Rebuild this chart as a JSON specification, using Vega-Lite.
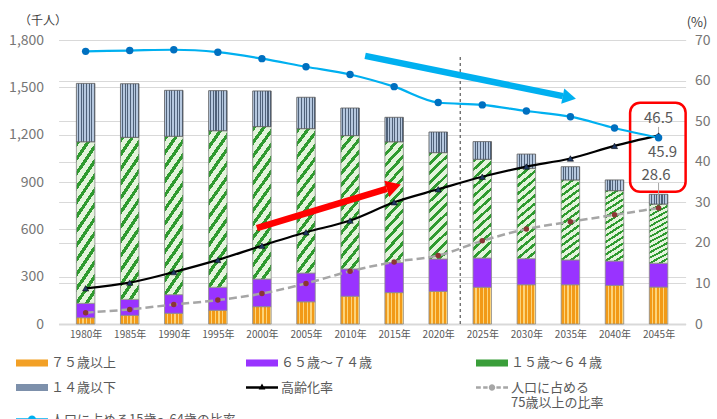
{
  "$schema": "https://vega.github.io/schema/vega-lite/v6.json",
  "width": 627,
  "height": 284,
  "autosize": {"type": "none"},
  "padding": {"left": 58.6, "top": 40, "right": 31.4, "bottom": 95},
  "background": "white",
  "datasets": {
    "bars": [
      {"year": 1980, "group": "７５歳以上", "pop": 40}, {"year": 1980, "group": "６５歳～７４歳", "pop": 91}, {"year": 1980, "group": "１５歳～６４歳", "pop": 1024}, {"year": 1980, "group": "１４歳以下", "pop": 370},
      {"year": 1985, "group": "７５歳以上", "pop": 55}, {"year": 1985, "group": "６５歳～７４歳", "pop": 101}, {"year": 1985, "group": "１５歳～６４歳", "pop": 1027}, {"year": 1985, "group": "１４歳以下", "pop": 340},
      {"year": 1990, "group": "７５歳以上", "pop": 68}, {"year": 1990, "group": "６５歳～７４歳", "pop": 118}, {"year": 1990, "group": "１５歳～６４歳", "pop": 1004}, {"year": 1990, "group": "１４歳以下", "pop": 291},
      {"year": 1995, "group": "７５歳以上", "pop": 87}, {"year": 1995, "group": "６５歳～７４歳", "pop": 146}, {"year": 1995, "group": "１５歳～６４歳", "pop": 992}, {"year": 1995, "group": "１４歳以下", "pop": 254},
      {"year": 2000, "group": "７５歳以上", "pop": 110}, {"year": 2000, "group": "６５歳～７４歳", "pop": 175}, {"year": 2000, "group": "１５歳～６４歳", "pop": 966}, {"year": 2000, "group": "１４歳以下", "pop": 226},
      {"year": 2005, "group": "７５歳以上", "pop": 141}, {"year": 2005, "group": "６５歳～７４歳", "pop": 182}, {"year": 2005, "group": "１５歳～６４歳", "pop": 915}, {"year": 2005, "group": "１４歳以下", "pop": 199},
      {"year": 2010, "group": "７５歳以上", "pop": 176}, {"year": 2010, "group": "６５歳～７４歳", "pop": 173}, {"year": 2010, "group": "１５歳～６４歳", "pop": 845}, {"year": 2010, "group": "１４歳以下", "pop": 175},
      {"year": 2015, "group": "７５歳以上", "pop": 199}, {"year": 2015, "group": "６５歳～７４歳", "pop": 190}, {"year": 2015, "group": "１５歳～６４歳", "pop": 766}, {"year": 2015, "group": "１４歳以下", "pop": 155},
      {"year": 2020, "group": "７５歳以上", "pop": 207}, {"year": 2020, "group": "６５歳～７４歳", "pop": 205}, {"year": 2020, "group": "１５歳～６４歳", "pop": 674}, {"year": 2020, "group": "１４歳以下", "pop": 131},
      {"year": 2025, "group": "７５歳以上", "pop": 233}, {"year": 2025, "group": "６５歳～７４歳", "pop": 185}, {"year": 2025, "group": "１５歳～６４歳", "pop": 626}, {"year": 2025, "group": "１４歳以下", "pop": 112},
      {"year": 2030, "group": "７５歳以上", "pop": 249}, {"year": 2030, "group": "６５歳～７４歳", "pop": 165}, {"year": 2030, "group": "１５歳～６４歳", "pop": 573}, {"year": 2030, "group": "１４歳以下", "pop": 90},
      {"year": 2035, "group": "７５歳以上", "pop": 249}, {"year": 2035, "group": "６５歳～７４歳", "pop": 157}, {"year": 2035, "group": "１５歳～６４歳", "pop": 507}, {"year": 2035, "group": "１４歳以下", "pop": 84},
      {"year": 2040, "group": "７５歳以上", "pop": 245}, {"year": 2040, "group": "６５歳～７４歳", "pop": 154}, {"year": 2040, "group": "１５歳～６４歳", "pop": 446}, {"year": 2040, "group": "１４歳以下", "pop": 68},
      {"year": 2045, "group": "７５歳以上", "pop": 234}, {"year": 2045, "group": "６５歳～７４歳", "pop": 151}, {"year": 2045, "group": "１５歳～６４歳", "pop": 375}, {"year": 2045, "group": "１４歳以下", "pop": 62}
    ],
    "lines": [
      {"year": 1980, "s": "aging", "pct": 8.8}, {"year": 1985, "s": "aging", "pct": 10.2}, {"year": 1990, "s": "aging", "pct": 12.8}, {"year": 1995, "s": "aging", "pct": 15.8}, {"year": 2000, "s": "aging", "pct": 19.3}, {"year": 2005, "s": "aging", "pct": 22.6}, {"year": 2010, "s": "aging", "pct": 25.5}, {"year": 2015, "s": "aging", "pct": 30.0}, {"year": 2020, "s": "aging", "pct": 33.2}, {"year": 2025, "s": "aging", "pct": 36.3}, {"year": 2030, "s": "aging", "pct": 38.8}, {"year": 2035, "s": "aging", "pct": 40.8}, {"year": 2040, "s": "aging", "pct": 43.9}, {"year": 2045, "s": "aging", "pct": 46.5},
      {"year": 1980, "s": "r75", "pct": 2.8}, {"year": 1985, "s": "r75", "pct": 3.6}, {"year": 1990, "s": "r75", "pct": 4.8}, {"year": 1995, "s": "r75", "pct": 5.9}, {"year": 2000, "s": "r75", "pct": 7.5}, {"year": 2005, "s": "r75", "pct": 10.0}, {"year": 2010, "s": "r75", "pct": 13.0}, {"year": 2015, "s": "r75", "pct": 15.3}, {"year": 2020, "s": "r75", "pct": 16.9}, {"year": 2025, "s": "r75", "pct": 20.5}, {"year": 2030, "s": "r75", "pct": 23.4}, {"year": 2035, "s": "r75", "pct": 25.2}, {"year": 2040, "s": "r75", "pct": 26.9}, {"year": 2045, "s": "r75", "pct": 28.6},
      {"year": 1980, "s": "r1564", "pct": 67.2}, {"year": 1985, "s": "r1564", "pct": 67.4}, {"year": 1990, "s": "r1564", "pct": 67.6}, {"year": 1995, "s": "r1564", "pct": 67.0}, {"year": 2000, "s": "r1564", "pct": 65.4}, {"year": 2005, "s": "r1564", "pct": 63.4}, {"year": 2010, "s": "r1564", "pct": 61.5}, {"year": 2015, "s": "r1564", "pct": 58.5}, {"year": 2020, "s": "r1564", "pct": 54.6}, {"year": 2025, "s": "r1564", "pct": 54.0}, {"year": 2030, "s": "r1564", "pct": 52.5}, {"year": 2035, "s": "r1564", "pct": 51.1}, {"year": 2040, "s": "r1564", "pct": 48.3}, {"year": 2045, "s": "r1564", "pct": 45.9}
    ],
    "ann": [
      {"name": "divider", "year": 2022.5, "v": 0, "v2": 1705},
      {"name": "red", "year": 1999.43, "year2": 2014.16, "v": 607, "v2": 857},
      {"name": "redhead", "year": 2014.16, "v": 857},
      {"name": "blue", "year": 2011.71, "year2": 2034.15, "v": 1699, "v2": 1444},
      {"name": "bluehead", "year": 2034.15, "v": 1444},
      {"name": "box", "year": 2041.77, "year2": 2048.07, "v": 838, "v2": 1403}
    ]
  },
  "encoding": {
    "x": {
      "field": "year", "type": "quantitative",
      "scale": {"domain": [1977.5, 2047.5], "nice": false, "zero": false},
      "axis": {
        "values": [1980, 1985, 1990, 1995, 2000, 2005, 2010, 2015, 2020, 2025, 2030, 2035, 2040, 2045],
        "labelExpr": "datum.value + '年'", "title": null, "grid": false, "ticks": false,
        "domainColor": "#d9d9d9", "domainWidth": 2, "labelFontSize": 10, "labelColor": "#595959",
        "labelPadding": 5, "labelOverlap": false, "labelFlush": false
      }
    }
  },
  "layer": [
    {
      "encoding": {
        "y": {
          "field": "v", "type": "quantitative",
          "scale": {"domain": [0, 1800], "nice": false},
          "axis": {
            "values": [0, 300, 600, 900, 1200, 1500, 1800], "format": ",.0f",
            "title": "（千人）", "titleAngle": 0, "titleAlign": "center", "titleBaseline": "middle",
            "titleX": -16, "titleY": -20, "titleFontSize": 12, "titleColor": "#404040", "titleFontWeight": "normal",
            "labelFontSize": 14, "labelColor": "#767676", "labelPadding": 15,
            "ticks": false, "domain": false, "grid": true, "gridColor": "#d9d9d9", "gridWidth": 1
          }
        }
      },
      "layer": [
        {
          "data": {"name": "bars"},
          "transform": [
            {"stack": "pop", "groupby": ["year"], "sort": [{"field": "group", "order": "descending"}], "as": ["v", "v2"]},
            {"filter": "datum.group === '７５歳以上'"}
          ],
          "mark": {"type": "bar", "orient": "vertical", "width": 18.5, "stroke": "#8c8c8c", "strokeWidth": 0.8,
            "fill": {"gradient": "linear", "x1": 0, "y1": 0, "x2": 1, "y2": 0, "stops": [
              {"offset": 0, "color": "#f29a17"}, {"offset": 0.13, "color": "#f29a17"}, {"offset": 0.13, "color": "#fcd47a"}, {"offset": 0.2, "color": "#fcd47a"},
              {"offset": 0.2, "color": "#f29a17"}, {"offset": 0.33, "color": "#f29a17"}, {"offset": 0.33, "color": "#fcd47a"}, {"offset": 0.4, "color": "#fcd47a"},
              {"offset": 0.4, "color": "#f29a17"}, {"offset": 0.53, "color": "#f29a17"}, {"offset": 0.53, "color": "#fcd47a"}, {"offset": 0.6, "color": "#fcd47a"},
              {"offset": 0.6, "color": "#f29a17"}, {"offset": 0.73, "color": "#f29a17"}, {"offset": 0.73, "color": "#fcd47a"}, {"offset": 0.8, "color": "#fcd47a"},
              {"offset": 0.8, "color": "#f29a17"}, {"offset": 0.93, "color": "#f29a17"}, {"offset": 0.93, "color": "#fcd47a"}, {"offset": 1, "color": "#fcd47a"}
            ]}},
          "encoding": {"y2": {"field": "v2"}}
        },
        {
          "data": {"name": "bars"},
          "transform": [
            {"stack": "pop", "groupby": ["year"], "sort": [{"field": "group", "order": "descending"}], "as": ["v", "v2"]},
            {"filter": "datum.group === '６５歳～７４歳'"}
          ],
          "mark": {"type": "bar", "orient": "vertical", "width": 18.5, "stroke": "#8c8c8c", "strokeWidth": 0.8, "fill": "#9933ff"},
          "encoding": {"y2": {"field": "v2"}}
        },
        {
          "data": {"name": "bars"},
          "transform": [
            {"stack": "pop", "groupby": ["year"], "sort": [{"field": "group", "order": "descending"}], "as": ["v", "v2"]},
            {"filter": "datum.group === '１５歳～６４歳'"}
          ],
          "mark": {"type": "bar", "orient": "vertical", "width": 18.5, "stroke": "#8c8c8c", "strokeWidth": 0.8,
            "fill": {"gradient": "linear", "x1": 0, "y1": 0, "x2": 0.19, "y2": 1.13, "stops": [
              {"offset": 0, "color": "#2f9a2f"}, {"offset": 0.031, "color": "#2f9a2f"}, {"offset": 0.031, "color": "#e4f4dc"}, {"offset": 0.077, "color": "#e4f4dc"},
              {"offset": 0.077, "color": "#2f9a2f"}, {"offset": 0.108, "color": "#2f9a2f"}, {"offset": 0.108, "color": "#e4f4dc"}, {"offset": 0.154, "color": "#e4f4dc"},
              {"offset": 0.154, "color": "#2f9a2f"}, {"offset": 0.185, "color": "#2f9a2f"}, {"offset": 0.185, "color": "#e4f4dc"}, {"offset": 0.231, "color": "#e4f4dc"},
              {"offset": 0.231, "color": "#2f9a2f"}, {"offset": 0.262, "color": "#2f9a2f"}, {"offset": 0.262, "color": "#e4f4dc"}, {"offset": 0.308, "color": "#e4f4dc"},
              {"offset": 0.308, "color": "#2f9a2f"}, {"offset": 0.338, "color": "#2f9a2f"}, {"offset": 0.338, "color": "#e4f4dc"}, {"offset": 0.385, "color": "#e4f4dc"},
              {"offset": 0.385, "color": "#2f9a2f"}, {"offset": 0.415, "color": "#2f9a2f"}, {"offset": 0.415, "color": "#e4f4dc"}, {"offset": 0.462, "color": "#e4f4dc"},
              {"offset": 0.462, "color": "#2f9a2f"}, {"offset": 0.492, "color": "#2f9a2f"}, {"offset": 0.492, "color": "#e4f4dc"}, {"offset": 0.538, "color": "#e4f4dc"},
              {"offset": 0.538, "color": "#2f9a2f"}, {"offset": 0.569, "color": "#2f9a2f"}, {"offset": 0.569, "color": "#e4f4dc"}, {"offset": 0.615, "color": "#e4f4dc"},
              {"offset": 0.615, "color": "#2f9a2f"}, {"offset": 0.646, "color": "#2f9a2f"}, {"offset": 0.646, "color": "#e4f4dc"}, {"offset": 0.692, "color": "#e4f4dc"},
              {"offset": 0.692, "color": "#2f9a2f"}, {"offset": 0.723, "color": "#2f9a2f"}, {"offset": 0.723, "color": "#e4f4dc"}, {"offset": 0.769, "color": "#e4f4dc"},
              {"offset": 0.769, "color": "#2f9a2f"}, {"offset": 0.8, "color": "#2f9a2f"}, {"offset": 0.8, "color": "#e4f4dc"}, {"offset": 0.846, "color": "#e4f4dc"},
              {"offset": 0.846, "color": "#2f9a2f"}, {"offset": 0.877, "color": "#2f9a2f"}, {"offset": 0.877, "color": "#e4f4dc"}, {"offset": 0.923, "color": "#e4f4dc"},
              {"offset": 0.923, "color": "#2f9a2f"}, {"offset": 0.954, "color": "#2f9a2f"}, {"offset": 0.954, "color": "#e4f4dc"}, {"offset": 1, "color": "#e4f4dc"}
            ]}},
          "encoding": {"y2": {"field": "v2"}}
        },
        {
          "data": {"name": "bars"},
          "transform": [
            {"stack": "pop", "groupby": ["year"], "sort": [{"field": "group", "order": "descending"}], "as": ["v", "v2"]},
            {"filter": "datum.group === '１４歳以下'"}
          ],
          "mark": {"type": "bar", "orient": "vertical", "width": 18.5, "stroke": "#5a5a5a", "strokeWidth": 0.8,
            "fill": {"gradient": "linear", "x1": 0, "y1": 0, "x2": 1, "y2": 0, "stops": [
              {"offset": 0, "color": "#b6c8df"}, {"offset": 0.086, "color": "#b6c8df"}, {"offset": 0.086, "color": "#4f6179"}, {"offset": 0.143, "color": "#4f6179"},
              {"offset": 0.143, "color": "#b6c8df"}, {"offset": 0.229, "color": "#b6c8df"}, {"offset": 0.229, "color": "#4f6179"}, {"offset": 0.286, "color": "#4f6179"},
              {"offset": 0.286, "color": "#b6c8df"}, {"offset": 0.371, "color": "#b6c8df"}, {"offset": 0.371, "color": "#4f6179"}, {"offset": 0.429, "color": "#4f6179"},
              {"offset": 0.429, "color": "#b6c8df"}, {"offset": 0.514, "color": "#b6c8df"}, {"offset": 0.514, "color": "#4f6179"}, {"offset": 0.571, "color": "#4f6179"},
              {"offset": 0.571, "color": "#b6c8df"}, {"offset": 0.657, "color": "#b6c8df"}, {"offset": 0.657, "color": "#4f6179"}, {"offset": 0.714, "color": "#4f6179"},
              {"offset": 0.714, "color": "#b6c8df"}, {"offset": 0.8, "color": "#b6c8df"}, {"offset": 0.8, "color": "#4f6179"}, {"offset": 0.857, "color": "#4f6179"},
              {"offset": 0.857, "color": "#b6c8df"}, {"offset": 0.943, "color": "#b6c8df"}, {"offset": 0.943, "color": "#4f6179"}, {"offset": 1, "color": "#4f6179"}
            ]}},
          "encoding": {"y2": {"field": "v2"}}
        },
        {
          "data": {"name": "ann"},
          "transform": [{"filter": "datum.name === 'divider'"}],
          "mark": {"type": "rule", "color": "#595959", "strokeWidth": 1.2, "strokeDash": [3, 3]},
          "encoding": {"y2": {"field": "v2"}}
        },
        {
          "data": {"name": "ann"},
          "transform": [{"filter": "datum.name === 'red'"}],
          "mark": {"type": "rule", "strokeWidth": 6.5, "strokeCap": "butt", "color": "#ff0000"},
          "encoding": {"x2": {"field": "year2"}, "y2": {"field": "v2"}}
        },
        {
          "data": {"name": "ann"},
          "transform": [{"filter": "datum.name === 'blue'"}],
          "mark": {"type": "rule", "strokeWidth": 6.5, "strokeCap": "butt", "color": "#00b0f0"},
          "encoding": {"x2": {"field": "year2"}, "y2": {"field": "v2"}}
        },
        {
          "data": {"name": "ann"},
          "transform": [{"filter": "datum.name === 'redhead'"}],
          "mark": {"type": "point", "shape": "triangle-right", "filled": true, "opacity": 1, "fill": "#ff0000", "strokeWidth": 0, "size": 289, "angle": 343.3, "xOffset": 7.1, "yOffset": -2.1}
        },
        {
          "data": {"name": "ann"},
          "transform": [{"filter": "datum.name === 'bluehead'"}],
          "mark": {"type": "point", "shape": "triangle-right", "filled": true, "opacity": 1, "fill": "#00b0f0", "strokeWidth": 0, "size": 240, "angle": 11.3, "xOffset": 6.4, "yOffset": 1.3}
        },
        {
          "data": {"name": "ann"},
          "transform": [{"filter": "datum.name === 'box'"}],
          "mark": {"type": "rect", "fillOpacity": 0, "fill": "white", "stroke": "#ff0000", "strokeWidth": 2.5, "cornerRadius": 10},
          "encoding": {"x2": {"field": "year2"}, "y2": {"field": "v2"}}
        },
        {
          "data": {"name": "bars"},
          "transform": [{"filter": "false"}],
          "mark": {"type": "point", "filled": true, "opacity": 1},
          "encoding": {
            "color": {
              "field": "group", "type": "nominal",
              "scale": {
                "domain": ["７５歳以上", "６５歳～７４歳", "１５歳～６４歳", "１４歳以下", "高齢化率", "人口に占める75歳以上の比率", "人口に占める15歳～64歳の比率"],
                "range": ["#f2a026", "#9933ff", "#3a9e3a", "#7d90ab", "#000000", "#a6a6a6", "#00b0f0"]
              },
              "legend": {
                "orient": "none", "legendX": -42.6, "legendY": 307.5, "columns": 3, "direction": "horizontal", "gridAlign": "all",
                "title": null, "symbolSize": 256, "symbolStrokeWidth": 0, "labelFontSize": 13, "labelColor": "#595959",
                "labelOffset": 19, "columnPadding": 10, "rowPadding": 2, "labelLimit": 400,
                "labelExpr": "datum.label === '人口に占める75歳以上の比率' ? ['人口に占める', '75歳以上の比率'] : datum.label"
              }
            },
            "shape": {
              "field": "group", "type": "nominal",
              "scale": {
                "domain": ["７５歳以上", "６５歳～７４歳", "１５歳～６４歳", "１４歳以下", "高齢化率", "人口に占める75歳以上の比率", "人口に占める15歳～64歳の比率"],
                "range": [
                  "M-1,-0.44H3V0.44H-1Z",
                  "M-1,-0.44H3V0.44H-1Z",
                  "M-1,-0.44H3V0.44H-1Z",
                  "M-1,-0.44H3V0.44H-1Z",
                  "M-1,-0.15H3V0.15H-1Z M1,-0.5L1.42,0.25H0.58Z",
                  "M-1,-0.15H-0.4V0.15H-1Z M-0.1,-0.15H0.45V0.15H-0.1Z M1.55,-0.15H2.1V0.15H1.55Z M2.4,-0.15H3V0.15H2.4Z M1.4,0A0.4,0.4 0 1,1 0.6,0A0.4,0.4 0 1,1 1.4,0Z",
                  "M-1,-0.15H3V0.15H-1Z M1.5,0A0.5,0.5 0 1,1 0.5,0A0.5,0.5 0 1,1 1.5,0Z"
                ]
              },
              "legend": {
                "orient": "none", "legendX": -42.6, "legendY": 307.5, "columns": 3, "direction": "horizontal", "gridAlign": "all",
                "title": null, "symbolSize": 256, "symbolStrokeWidth": 0, "labelFontSize": 13, "labelColor": "#595959",
                "labelOffset": 19, "columnPadding": 10, "rowPadding": 2, "labelLimit": 400,
                "labelExpr": "datum.label === '人口に占める75歳以上の比率' ? ['人口に占める', '75歳以上の比率'] : datum.label"
              }
            }
          }
        }
      ]
    },
    {
      "encoding": {
        "y": {
          "field": "pct", "type": "quantitative",
          "scale": {"domain": [0, 70], "nice": false},
          "axis": {
            "orient": "right", "values": [0, 10, 20, 30, 40, 50, 60, 70],
            "title": "(%)", "titleAngle": 0, "titleAlign": "center", "titleBaseline": "middle",
            "titleX": 11, "titleY": -18, "titleFontSize": 13, "titleColor": "#404040", "titleFontWeight": "normal",
            "labelFontSize": 14, "labelColor": "#767676", "labelPadding": 9,
            "ticks": false, "domain": false, "grid": true, "gridColor": "#d9d9d9", "gridWidth": 1
          }
        }
      },
      "layer": [
        {
          "data": {"name": "lines"},
          "transform": [{"filter": "datum.s === 'r75'"}],
          "mark": {"type": "line", "color": "#a6a6a6", "strokeWidth": 2.5, "strokeDash": [8, 4], "interpolate": "monotone"}
        },
        {
          "data": {"name": "lines"},
          "transform": [{"filter": "datum.s === 'r75'"}],
          "mark": {"type": "point", "shape": "circle", "filled": true, "opacity": 1, "fill": "#8b3535", "size": 30, "strokeWidth": 0}
        },
        {
          "data": {"name": "lines"},
          "transform": [{"filter": "datum.s === 'aging'"}],
          "mark": {"type": "line", "color": "#000000", "strokeWidth": 2.2, "interpolate": "monotone"}
        },
        {
          "data": {"name": "lines"},
          "transform": [{"filter": "datum.s === 'aging'"}],
          "mark": {"type": "point", "shape": "triangle-up", "filled": true, "opacity": 1, "fill": "#1f3864", "size": 40, "stroke": "#000000", "strokeWidth": 0.5}
        },
        {
          "data": {"name": "lines"},
          "transform": [{"filter": "datum.s === 'r1564'"}],
          "mark": {"type": "line", "color": "#00b0f0", "strokeWidth": 2.2, "interpolate": "monotone"}
        },
        {
          "data": {"name": "lines"},
          "transform": [{"filter": "datum.s === 'r1564'"}],
          "mark": {"type": "point", "shape": "circle", "filled": true, "opacity": 1, "fill": "#0070c0", "size": 55, "strokeWidth": 0}
        },
        {
          "data": {"name": "lines"},
          "transform": [{"filter": "datum.year === 2045 && datum.s === 'aging'"}],
          "mark": {"type": "rule", "color": "#a6a6a6", "strokeWidth": 1, "yOffset": -3.4, "y2Offset": -8.4},
          "encoding": {"y2": {"field": "pct"}}
        },
        {
          "data": {"name": "lines"},
          "transform": [{"filter": "datum.year === 2045 && datum.s === 'r75'"}],
          "mark": {"type": "rule", "color": "#a6a6a6", "strokeWidth": 1, "yOffset": -5, "y2Offset": -25},
          "encoding": {"y2": {"field": "pct"}}
        },
        {
          "data": {"name": "lines"},
          "transform": [{"filter": "datum.year === 2045 && datum.s === 'aging'"}],
          "mark": {"type": "text", "fontSize": 15, "color": "#595959", "dx": 0, "dy": -17, "baseline": "middle", "align": "center"},
          "encoding": {"text": {"field": "pct", "type": "quantitative", "format": ".1f"}}
        },
        {
          "data": {"name": "lines"},
          "transform": [{"filter": "datum.year === 2045 && datum.s === 'r1564'"}],
          "mark": {"type": "text", "fontSize": 15, "color": "#595959", "dx": 4, "dy": 14, "baseline": "middle", "align": "center"},
          "encoding": {"text": {"field": "pct", "type": "quantitative", "format": ".1f"}}
        },
        {
          "data": {"name": "lines"},
          "transform": [{"filter": "datum.year === 2045 && datum.s === 'r75'"}],
          "mark": {"type": "text", "fontSize": 15, "color": "#595959", "dx": -2.5, "dy": -33, "baseline": "middle", "align": "center"},
          "encoding": {"text": {"field": "pct", "type": "quantitative", "format": ".1f"}}
        }
      ]
    }
  ],
  "resolve": {"scale": {"y": "independent"}},
  "config": {
    "font": "Noto Sans CJK JP",
    "view": {"stroke": null},
    "axis": {"labelFont": "Noto Sans CJK JP", "titleFont": "Noto Sans CJK JP"},
    "legend": {"labelFont": "Noto Sans CJK JP"},
    "text": {"font": "Noto Sans CJK JP"}
  }
}
